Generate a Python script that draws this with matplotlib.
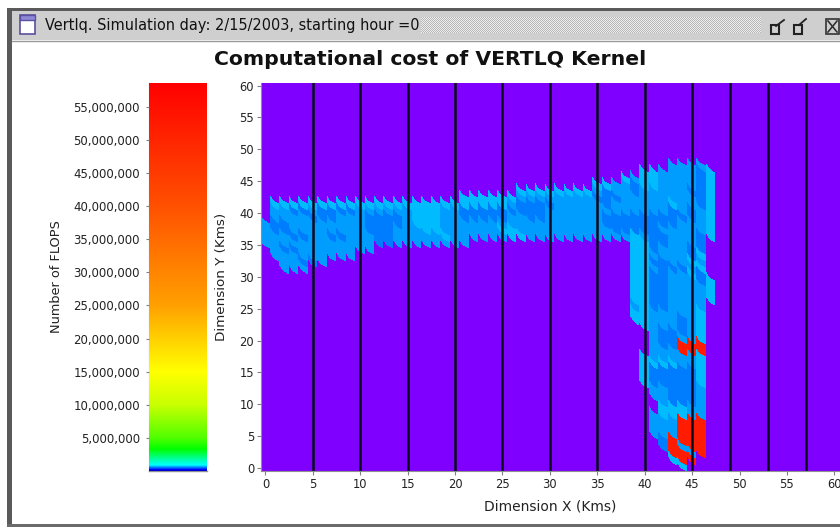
import numpy as np
import matplotlib
matplotlib.use("Agg")
import matplotlib.pyplot as plt
from matplotlib.colors import LinearSegmentedColormap, Normalize
from matplotlib.cm import ScalarMappable
from matplotlib.patches import Rectangle
from matplotlib.ticker import FuncFormatter

WINDOW_TITLE = "Vertlq. Simulation day: 2/15/2003, starting hour =0"
CHART_TITLE = "Computational cost of VERTLQ Kernel"
X_LABEL = "Dimension X (Kms)"
Y_LABEL = "Dimension Y (Kms)"
CBAR_LABEL = "Number of FLOPS"
AXIS_TICKS = list(range(0, 61, 5))
CBAR_TICKS = list(range(5_000_000, 55_000_001, 5_000_000))
SECTOR_LINES = [5, 10, 15, 20, 25, 30, 35, 40, 45, 49, 53, 57]

# FLOP count for each letter in the cost map
LEVELS = {".": 0, "a": 725_000, "b": 630_000, "c": 550_000, "r": 52_000_000}

# cost map: key = Y row, string = columns from X = 0 (groups of ten)
COST_ROWS = {
    48: ".......... .......... .......... .......... ...bbbb.",
    47: ".......... .......... .......... .......... aabbbbca",
    46: ".......... .......... .......... ........ab aabbbbca",
    45: ".......... .......... .......... .....aabbc aabbbbca",
    44: ".......... .......... .......aaa aaaaabcbbc bbbbbcca",
    43: ".......... .......... .aaaaaabbb bbbbbcccbb bbbbbbca",
    42: ".aaaaaaaaa aaaaaaaaaa aaaaaabccc cbbbbbcbbb bbbabbca",
    41: ".bbccbcccc bbbbbbaaab bccccccccc bbbbbbbbbb bbbcbcba",
    40: ".bbbbcccbb bccccbaaab bcccccbbcc bbbbbbcccc ccccccba",
    39: "bccbbbbbbb bccccbaaab bbbbbbbbbb bbbbbbcccc ccccbbba",
    38: "bccbbbbbbb bcccbbbaab bbbbbaabbb bbbbbbbccc ccbbbbba",
    37: "bbbccbbccb bbccbbbbba bbbbbbaabb bbbbbbbbba bccbbbca",
    36: "bbbbbbbbbb bbccbbbbbb bb........ .........a accbbbc.",
    35: ".bccbbbbbb bb........ .......... .........a acbbbcc.",
    34: ".bbbbbbbbb .......... .......... .........a abbbbca.",
    33: "..bbccb... .......... .......... .........a accbbab.",
    32: "..bbb..... .......... .......... .........a abcccba.",
    31: ".......... .......... .......... .........a accbbac.",
    30: ".......... .......... .......... .........a accbbbca",
    29: ".......... .......... .......... .........a accbbbba",
    28: ".......... .......... .......... .........a accbbbba",
    27: ".......... .......... .......... .........a accbbbba",
    26: ".......... .......... .......... .........b accbbbb.",
    25: ".......... .......... .......... .........a abbbbba.",
    24: ".......... .......... .......... .........a abbbcba.",
    23: ".......... .......... .......... .......... abbbcba.",
    22: ".......... .......... .......... .......... .bcccba.",
    21: ".......... .......... .......... .......... .bccbba.",
    20: ".......... .......... .......... .......... .bccrrr.",
    19: ".......... .......... .......... .......... .bbbrrr.",
    18: ".......... .......... .......... .......... abbbbba.",
    17: ".......... .......... .......... .......... aaaabba.",
    16: ".......... .......... .......... .......... accccca.",
    15: ".......... .......... .......... .......... accccca.",
    14: ".......... .......... .......... .......... accccca.",
    13: ".......... .......... .......... .......... .bbcccb.",
    12: ".......... .......... .......... .......... .bbcccb.",
    11: ".......... .......... .......... .......... ..bcccb.",
    10: ".......... .......... .......... .......... ..aaabb.",
    9:  ".......... .......... .......... .......... .baaabb.",
    8:  ".......... .......... .......... .......... .bbbrrr.",
    7:  ".......... .......... .......... .......... .bbbrrr.",
    6:  ".......... .......... .......... .......... .bbbrrr.",
    5:  ".......... .......... .......... .......... ..crrrr.",
    4:  ".......... .......... .......... .......... ..crbrr.",
    3:  ".......... .......... .......... .......... ...rrbr.",
    2:  ".......... .......... .......... .......... ...arr..",
    1:  ".......... .......... .......... .......... ....a...",
}

# colour scale stops: FLOPs (millions) and colour
SCALE_MILLIONS = [0, 0.2, 0.9, 3.3, 5, 10, 15, 25, 40, 58.6]
SCALE_COLORS = ["#0000c0", "#0000ff", "#00ffff", "#00ff00", "#50ff00", "#c8ff00",
                "#ffff00", "#ffa000", "#ff5000", "#ff0000"]
CBAR_MAX = 58_600_000
PURPLE = "#7f00ff"

W, H = 840, 527
fig = plt.figure(figsize=(W / 100, H / 100), dpi=100, facecolor="white")


def rect_axes(l, t, r, b):
    return fig.add_axes([l / W, 1 - b / H, (r - l) / W, (b - t) / H])


# window chrome
ch = fig.add_axes([0, 0, 1, 1], zorder=0)
ch.add_patch(Rectangle((7, 8), W, 519, fc="white", ec="none"))
ch.add_patch(Rectangle((7, 8), W, 3, fc="#5a5a5a", ec="none"))
ch.add_patch(Rectangle((7, 8), 5, 519, fc="#5a5a5a", ec="none"))
ch.add_patch(Rectangle((7, 524), W, 3, fc="#6a6a6a", ec="none"))
ch.add_patch(Rectangle((12, 11), W, 29, fc="#cfcfcf", ec="none"))
ch.plot([12, W], [40.5, 40.5], color="#9a9a9a", lw=1)
ch.add_patch(Rectangle((20, 15), 15, 19, fc="white", ec="#5a50a0", lw=1.2))
ch.add_patch(Rectangle((20, 15), 15, 5, fc="#8f88d8", ec="#5a50a0", lw=1))
ch.text(45, 25.5, WINDOW_TITLE, fontsize=10.45, color="#111111", va="center", ha="left", weight="medium")
stipple = np.indices((16, 340)).sum(axis=0) % 2
ch.imshow(stipple, extent=(421, 761, 33, 17), cmap="gray", vmin=-3.2, vmax=1.3,
          interpolation="nearest", aspect="auto", zorder=2)
for x0 in (771, 794):
    ch.add_patch(Rectangle((x0, 25), 8, 9, fc="none", ec="#222222", lw=1.5))
ch.plot([776, 784], [26, 20], color="#222222", lw=1.3)
ch.plot([799, 806], [25, 19], color="#222222", lw=1.3)
ch.add_patch(Rectangle((826, 19), 13, 15, fc="none", ec="#333333", lw=1.2))
ch.plot([828, 837], [21, 32], color="#333333", lw=1.2)
ch.plot([828, 837], [32, 21], color="#333333", lw=1.2)
ch.text(430, 59.5, CHART_TITLE, fontsize=14.7, weight="bold", color="#111111", ha="center", va="center")
ch.set_xlim(0, W); ch.set_ylim(H, 0); ch.axis("off")

# colour scale
cmap = LinearSegmentedColormap.from_list(
    "flops", [(m * 1e6 / CBAR_MAX, c) for m, c in zip(SCALE_MILLIONS, SCALE_COLORS)], N=4096)
cmap.set_under(PURPLE)
norm = Normalize(vmin=1, vmax=CBAR_MAX)

# cost map: hooked cells give the sawtooth edges
ax = rect_axes(261, 83, W, 471)
ax.set_facecolor(PURPLE)
row_ids = np.arange(-2, 63)
grid = np.zeros((len(row_ids), 62))
for j, text in COST_ROWS.items():
    for i, ch_val in enumerate(text.replace(" ", "")):
        grid[j + 2, i] = LEVELS[ch_val]
edges = np.append(row_ids, row_ids[-1] + 1).astype(float)
for i in range(grid.shape[1]):
    x0 = i - 0.55
    X = np.column_stack([np.full_like(edges, x0), np.full_like(edges, x0 + 0.4),
                         np.full_like(edges, x0 + 1)])
    Y = np.column_stack([edges, edges - 1.0, edges - 1.5])
    ax.pcolormesh(X, Y, grid[:, [i, i]], cmap=cmap, norm=norm, shading="flat",
                  antialiased=False, rasterized=True)
for x in SECTOR_LINES:
    ax.axvline(x, color="#08081c", lw=1.8, zorder=3)
ax.set_xlim(-0.47, 60.6)
ax.set_ylim(-0.47, 60.4)
ax.set_xticks(AXIS_TICKS)
ax.set_yticks(AXIS_TICKS)
ax.tick_params(labelsize=8.3, length=3, width=0.8, color="#808080", labelcolor="#222222", pad=2)
for sp in ("top", "right"):
    ax.spines[sp].set_visible(False)
for sp in ("left", "bottom"):
    ax.spines[sp].set_color("#909090")
ax.set_xlabel(X_LABEL, fontsize=10, color="#222222", va="center")
ax.xaxis.set_label_coords((550 - 261) / (W - 261), -(506 - 471) / 388, transform=ax.transAxes)
ax.set_ylabel(Y_LABEL, fontsize=9.7, color="#222222", va="center")
ax.yaxis.set_label_coords((221 - 261) / (W - 261), (471 - 277) / 388, transform=ax.transAxes)

# colour bar
cax = rect_axes(149, 83, 207, 471)
cb = fig.colorbar(ScalarMappable(norm=norm, cmap=cmap), cax=cax, ticks=CBAR_TICKS, drawedges=False)
cb.ax.yaxis.set_ticks_position("left")
cb.ax.yaxis.set_label_position("left")
cb.ax.yaxis.set_major_formatter(FuncFormatter(lambda v, _: f"{int(round(v)):,}"))
cb.ax.tick_params(labelsize=8.5, length=2.5, width=0.8, color="#808080", labelcolor="#222222", pad=4)
cb.outline.set_visible(False)
ch.text(57, 277, CBAR_LABEL, rotation=90, fontsize=9.3, color="#222222", ha="center", va="center")
ch.plot([149, 207], [471, 471], color="#909090", lw=1)
ch.plot([149, 149], [83, 471], color="#909090", lw=0.8)

fig.savefig("out.png", dpi=100)
